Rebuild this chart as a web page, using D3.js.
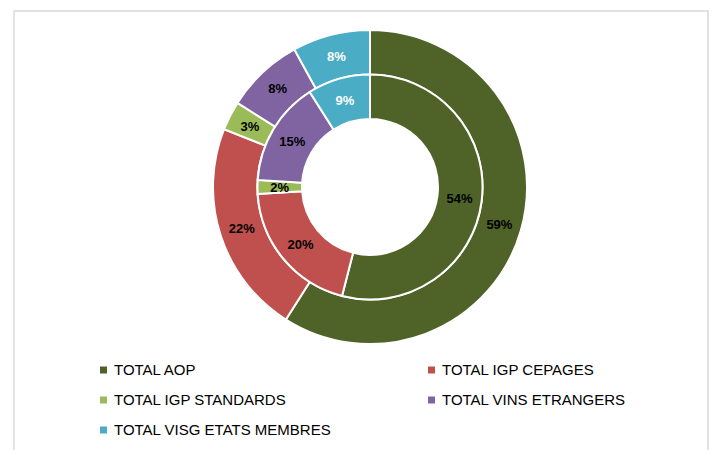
<!DOCTYPE html>
<html>
<head>
<meta charset="utf-8">
<script src="https://cdn.jsdelivr.net/npm/d3@7"></script>
<style>
  body { margin: 0; background: #fff; }
  svg { display: block; }
</style>
</head>
<body>
<svg id="drawing_region"></svg>
<script>
// categories, in drawing order (clockwise from 12 o'clock)
const categories = ["TOTAL AOP", "TOTAL IGP CEPAGES", "TOTAL IGP STANDARDS", "TOTAL VINS ETRANGERS", "TOTAL VISG ETATS MEMBRES"];
// outer ring and inner ring shares (%)
const outerValues = [59, 22, 3, 8, 8];
const innerValues = [54, 20, 2, 15, 9];
const colors = ["#4f6228", "#c0504d", "#9bbb59", "#8064a2", "#4bacc6"];
const labelColors = ["#000", "#000", "#000", "#000", "#fff"];

const width = 713, height = 450;
const cx = 370, cy = 187;

const svg = d3.select("#drawing_region")
    .attr("width", width)
    .attr("height", height);

// chart frame
svg.append("rect")
    .attr("x", 14).attr("y", 11)
    .attr("width", 694).attr("height", 460)
    .attr("fill", "none")
    .attr("stroke", "#d9d9d9")
    .attr("stroke-width", 1.5);

const chart = svg.append("g")
    .attr("transform", `translate(${cx}, ${cy})`);

const pie = d3.pie().sort(null).value(d => d);

const rings = [
    { values: outerValues, inner: 112.5, outer: 157 },
    { values: innerValues, inner: 68, outer: 112.5 }
];

rings.forEach(ring => {
    const arc = d3.arc().innerRadius(ring.inner).outerRadius(ring.outer);
    const g = chart.append("g");
    const arcs = pie(ring.values);

    g.selectAll("path")
        .data(arcs)
        .enter()
        .append("path")
        .attr("d", arc)
        .attr("fill", (d, i) => colors[i])
        .attr("stroke", "#fff")
        .attr("stroke-width", 2);

    g.selectAll("text")
        .data(arcs)
        .enter()
        .append("text")
        .attr("transform", d => `translate(${arc.centroid(d)})`)
        .attr("text-anchor", "middle")
        .attr("dy", "0.36em")
        .attr("font-family", "Liberation Sans, Arial, sans-serif")
        .attr("font-weight", "bold")
        .attr("font-size", 13)
        .attr("fill", (d, i) => labelColors[i])
        .text(d => d.data + "%");
});

// legend, two columns
const legend = svg.append("g");
const colX = [100, 428];
const rowY = [370, 400, 430];

const items = legend.selectAll("g")
    .data(categories)
    .enter()
    .append("g")
    .attr("transform", (d, i) => `translate(${colX[i % 2]}, ${rowY[Math.floor(i / 2)]})`);

items.append("rect")
    .attr("x", 0).attr("y", -3.5)
    .attr("width", 7).attr("height", 7)
    .attr("fill", (d, i) => colors[i]);

items.append("text")
    .attr("x", 14)
    .attr("dy", "0.36em")
    .attr("font-family", "Liberation Sans, Arial, sans-serif")
    .attr("font-size", 15)
    .attr("fill", "#000")
    .text(d => d);
</script>
</body>
</html>
